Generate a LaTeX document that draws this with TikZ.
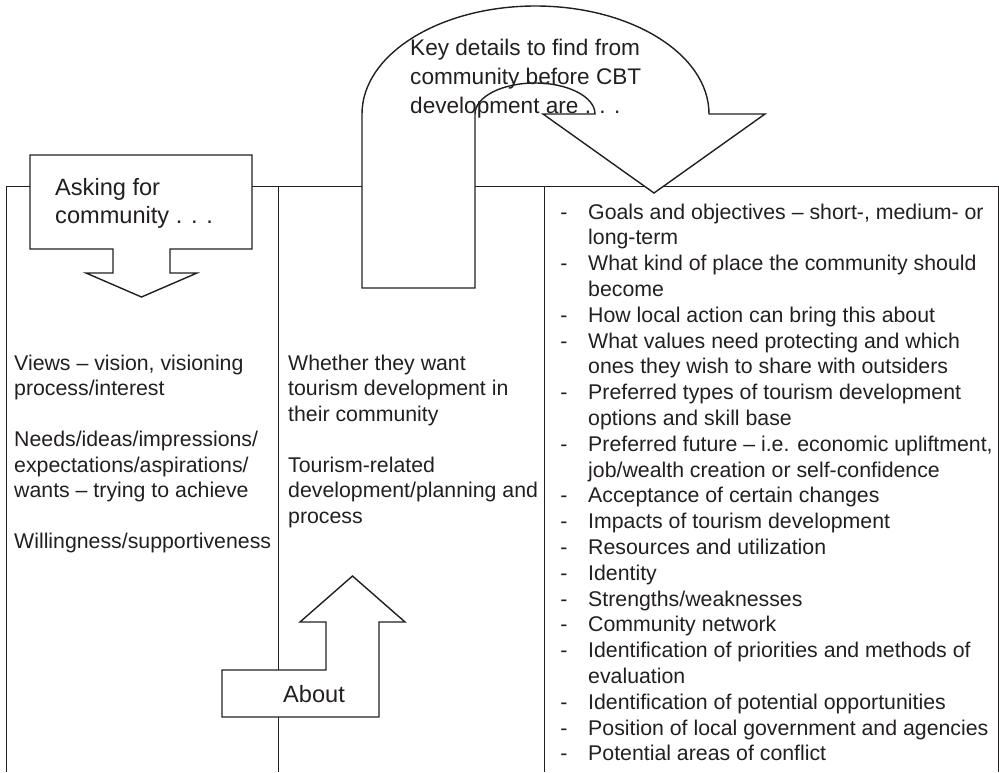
\documentclass[tikz,border=0pt]{standalone}
\usepackage{fontspec}
\setmainfont{Liberation Sans}
\definecolor{ink}{HTML}{231F20}
\begin{document}
\begin{tikzpicture}[x=1pt,y=-1pt,
  tline/.style={draw=ink,line width=1pt},
  outlinebox/.style={draw=ink,fill=white,line width=1.4pt,line join=miter},
  body/.style={inner sep=0pt,anchor=base west,text=ink,font=\fontsize{21.3}{25.5}\selectfont},
  dashmark/.style={inner sep=0pt,anchor=base,text=ink,font=\fontsize{21.3}{25.5}\selectfont},
  callout/.style={inner sep=0pt,anchor=base west,text=ink,font=\fontsize{23.6}{28}\selectfont},
  keytext/.style={inner sep=0pt,anchor=base west,text=ink,font=\fontsize{22.6}{28}\selectfont}]
\useasboundingbox (0,0) rectangle (999,772);
% table
\coordinate (tl) at (6,186);
\coordinate (tr) at (998,186);
\draw[tline] (6,772) -- (tl) -- (tr) -- (998,772);
\draw[tline] (278,186) -- (278,772);
\draw[tline] (544,186) -- (544,772);
% top curved arrow
\draw[outlinebox] (362,288) -- (362,114)
  arc[start angle=180,end angle=0,x radius=173.5pt,y radius=108pt]
  -- (765,114) -- (654,193) -- (543,114) -- (595,114)
  arc[start angle=0,end angle=180,x radius=60pt,y radius=31pt]
  -- (475,288) -- cycle;
% left callout
\draw[outlinebox] (30,155) -- (252,155) -- (252,249) -- (170,249) -- (170,273)
  -- (197,273) -- (141.5,297) -- (86,273) -- (113,273) -- (113,249)
  -- (30,249) -- cycle;
% about callout
\draw[outlinebox] (222,717) -- (222,670) -- (326,670) -- (326,622) -- (300,622)
  -- (352.5,576) -- (405,622) -- (379,622) -- (379,717) -- cycle;
% texts
\node[keytext] (k1) at (410,55) {Key details to find from};
\node[keytext] (k2) at (410,84) {community before CBT};
\node[keytext] (k3) at (410,113) {development are . . .};
\node[callout] (a1) at (55,195) {Asking for};
\node[callout] (a2) at (55,223) {community . . .};
\node[callout] (ab) at (283,702) {About};
% column 1
\node[body] (c1a) at (14,370) {Views – vision, visioning};
\node[body] (c1b) at (14,395.5) {process/interest};
\node[body] (c1c) at (14,446.5) {Needs/ideas/impressions/};
\node[body] (c1d) at (14,472) {expectations/aspirations/};
\node[body] (c1e) at (14,497.5) {wants – trying to achieve};
\node[body] (c1f) at (14,548.5) {Willingness/supportiveness};
% column 2
\node[body] (c2a) at (288,370) {Whether they want};
\node[body] (c2b) at (288,395.5) {tourism development in};
\node[body] (c2c) at (288,421) {their community};
\node[body] (c2d) at (288,472) {Tourism-related};
\node[body] (c2e) at (288,497.5) {development/planning and};
\node[body] (c2f) at (288,523) {process};
% column 3
\foreach \t [count=\i] in {
  {Goals and objectives – short-, medium- or},
  {long-term},
  {What kind of place the community should},
  {become},
  {How local action can bring this about},
  {What values need protecting and which},
  {ones they wish to share with outsiders},
  {Preferred types of tourism development},
  {options and skill base},
  {Preferred future – i.e. economic upliftment,},
  {job/wealth creation or self-confidence},
  {Acceptance of certain changes},
  {Impacts of tourism development},
  {Resources and utilization},
  {Identity},
  {Strengths/weaknesses},
  {Community network},
  {Identification of priorities and methods of},
  {evaluation},
  {Identification of potential opportunities},
  {Position of local government and agencies},
  {Potential areas of conflict}}
  \node[body] (r\i) at (588,{219+25.8*(\i-1)}) {\t};
\foreach \i in {1,3,5,6,8,10,12,13,14,15,16,17,18,20,21,22}
  \node[dashmark] (d\i) at (564,{219+25.8*(\i-1)}) {-};
\end{tikzpicture}
\end{document}
